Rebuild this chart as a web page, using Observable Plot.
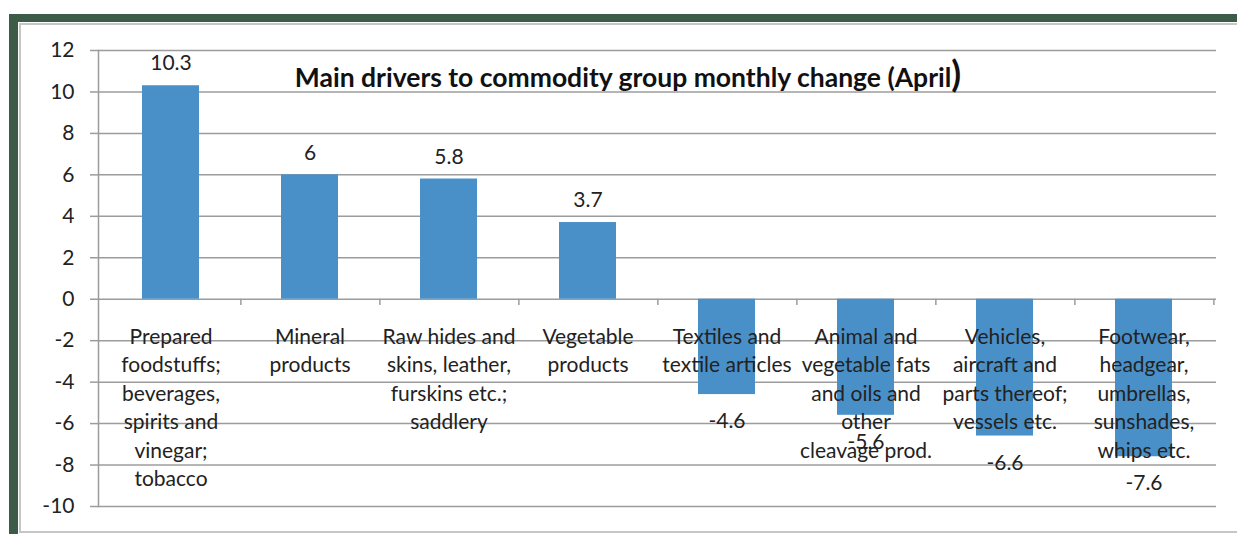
<!DOCTYPE html>
<html>
<head>
<meta charset="utf-8">
<script src="https://cdn.jsdelivr.net/npm/d3@7"></script>
<script src="https://cdn.jsdelivr.net/npm/@observablehq/plot@0.6"></script>
<style>
  html, body { margin: 0; padding: 0; background: #fff; overflow: hidden; width: 1237px; height: 534px; }
  #green { position: absolute; left: 9px; top: 14px; width: 1400px; height: 700px; background: #3d5c48; }
  #white { position: absolute; left: 18px; top: 22px; width: 1400px; height: 700px; background: #fff; }
  #panel { position: absolute; left: 19px; top: 23px; width: 1400px; height: 506px; border: 2px solid #c6c6c6; background: #fff; }
  #chart { position: absolute; left: 0; top: 0; }
  #title { position: absolute; left: 0; top: 57px; width: 1256px; text-align: center; font-family: Lato, sans-serif; font-weight: bold; font-size: 26.5px; line-height: 32px; color: #111; white-space: nowrap; }
  #title .paren { font-size: 36px; font-weight: bold; line-height: 32px; }
</style>
</head>
<body>
<div id="green"></div>
<div id="white"></div>
<div id="panel"></div>
<div id="chart"></div>
<div id="title">Main drivers to commodity group monthly change (April<span class="paren">)</span></div>
<script>
const categories = [
  "Prepared foodstuffs; beverages, spirits and vinegar; tobacco",
  "Mineral products",
  "Raw hides and skins, leather, furskins etc.; saddlery",
  "Vegetable products",
  "Textiles and textile articles",
  "Animal and vegetable fats and oils and other cleavage prod.",
  "Vehicles, aircraft and parts thereof; vessels etc.",
  "Footwear, headgear, umbrellas, sunshades, whips etc."
];
const categoryLabels = [
  "Prepared\nfoodstuffs;\nbeverages,\nspirits and\nvinegar;\ntobacco",
  "Mineral\nproducts",
  "Raw hides and\nskins, leather,\nfurskins etc.;\nsaddlery",
  "Vegetable\nproducts",
  "Textiles and\ntextile articles",
  "Animal and\nvegetable fats\nand oils and\nother\ncleavage prod.",
  "Vehicles,\naircraft and\nparts thereof;\nvessels etc.",
  "Footwear,\nheadgear,\numbrellas,\nsunshades,\nwhips etc."
];
const values = [10.3, 6, 5.8, 3.7, -4.6, -5.6, -6.6, -7.6];
const yTicks = [-10, -8, -6, -4, -2, 0, 2, 4, 6, 8, 10, 12];

const data = categories.map((c, i) => ({category: c, label: categoryLabels[i], value: values[i]}));

const W = 1237, H = 534, mL = 98, mR = 21, mT = 50, mB = 28;
const halfStep = (W - mL - mR) / categories.length / 2;
const grid = "#9c9c9c";
const textColor = "#222";
const fs = 21;

const chart = Plot.plot({
  width: W,
  height: H,
  marginLeft: mL,
  marginRight: mR,
  marginTop: mT,
  marginBottom: mB,
  style: {fontFamily: "Lato, sans-serif", fontSize: fs + "px", color: textColor, background: "transparent"},
  x: {domain: categories, paddingInner: 0.59, paddingOuter: 0.295, axis: null},
  y: {domain: [-10, 12], ticks: yTicks, axis: null},
  marks: [
    Plot.gridY(yTicks, {stroke: grid, strokeOpacity: 1, strokeWidth: 1.5}),
    Plot.frame({anchor: "left", stroke: grid, strokeWidth: 1.5}),
    Plot.axisY({ticks: yTicks, tickSize: 8, tickPadding: 16, tickFormat: d => String(d), label: null, stroke: grid, strokeWidth: 1.5, fontSize: fs, fill: textColor}),
    Plot.ruleX(categories, {x: d => d, y1: 0, y2: -0.3, dx: halfStep, stroke: grid, strokeWidth: 1.5}),
    Plot.barY(data, {x: "category", y: "value", fill: "#4a90c8"}),
    Plot.text(data.filter(d => d.value >= 0), {x: "category", y: "value", text: d => String(d.value), dy: -22, fill: textColor, fontSize: fs}),
    Plot.text(data.filter(d => d.value < 0), {x: "category", y: "value", text: d => String(d.value), dy: 27, fill: textColor, fontSize: fs}),
    Plot.text(data, {x: "category", y: () => 0, text: "label", lineAnchor: "top", dy: 24.5, lineHeight: 28.5 / fs, fill: textColor, fontSize: fs})
  ]
});
document.getElementById("chart").appendChild(chart);
</script>
</body>
</html>
